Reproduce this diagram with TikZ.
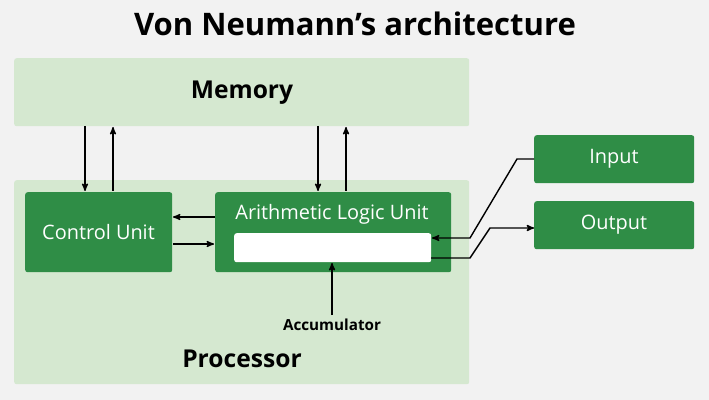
\documentclass[tikz,border=0pt]{standalone}
\usepackage{fontspec}
\setmainfont{Open Sans}
\usetikzlibrary{arrows,calc}
\definecolor{lg}{HTML}{D5E8D0}
\definecolor{dg}{HTML}{2F8D46}
\definecolor{bg}{HTML}{F2F2F2}
\tikzset{
    region/.style = {rectangle,
                    fill=lg,
                    draw=none,
                    rounded corners=2pt,
                    anchor=north west},
    unit/.style =   {rectangle,
                    fill=dg,
                    draw=none,
                    text=white,
                    rounded corners=2pt,
                    anchor=north west},
    slot/.style =   {rectangle,
                    fill=white,
                    draw=none,
                    rounded corners=2pt,
                    anchor=north west},
    link/.style =   {->, >=stealth', line width=1.2pt, draw=black},
    -}

\begin{document}
\begin{tikzpicture}[x=0.03cm,y=-0.03cm]
            \fill[bg] (0,0) rectangle (709,400);
            \useasboundingbox (0,0) rectangle (709,400);
            \node                   (T) at (355,24)       {\fontsize{26.5}{30}\selectfont\bfseries Von Neumann's architecture};
            \node[region, minimum width=455*0.03cm, minimum height=68*0.03cm] (M) at (14,58) {};
            \node                   at (242,93)           {\fontsize{21}{25}\selectfont\bfseries Memory};
            \node[region, minimum width=455*0.03cm, minimum height=204*0.03cm] (P) at (14,180) {};
            \node                   at (242,359)          {\fontsize{21}{25}\selectfont\bfseries Processor};
            \node[unit, minimum width=147*0.03cm, minimum height=80*0.03cm] (C) at (25,192) {};
            \node[text=white]       at (98.5,232)         {\fontsize{17}{20}\selectfont Control Unit};
            \node[unit, minimum width=236*0.03cm, minimum height=80*0.03cm] (A) at (215,192) {};
            \node[text=white]       at (332,214)          {\fontsize{17}{20}\selectfont Arithmetic Logic Unit};
            \node[slot, minimum width=197*0.03cm, minimum height=29*0.03cm] (R) at (234,233) {};
            \node[unit, minimum width=160*0.03cm, minimum height=48*0.03cm] (I) at (534,135) {};
            \node[text=white]       at (614,159)          {\fontsize{17}{20}\selectfont Input};
            \node[unit, minimum width=160*0.03cm, minimum height=48*0.03cm] (O) at (534,201) {};
            \node[text=white]       at (614,225)          {\fontsize{17}{20}\selectfont Output};
            \node                   (Acc) at (332,325)    {\fontsize{13}{15}\selectfont\bfseries Accumulator};

            \coordinate (i1) at (517,159);
            \coordinate (i2) at (470,238);
            \coordinate (o1) at (470,258);
            \coordinate (o2) at (490,228);

            \draw[link] (85,126) -- (85,191);
            \draw[link] (113,191) -- (113,127);
            \draw[link] (318,126) -- (318,191);
            \draw[link] (346,191) -- (346,127);
            \draw[link] (215,217) -- (173,217);
            \draw[link] (173,244) -- (214,244);
            \draw[link] (Acc.north) -- (332,263);
            \draw[link] (I.west |- i1) -- (i1) -- (i2) -- (432,238);
            \draw[link] (431,258) -- (o1) -- (o2) -- (O.west |- o2);
        \end{tikzpicture}
\end{document}
